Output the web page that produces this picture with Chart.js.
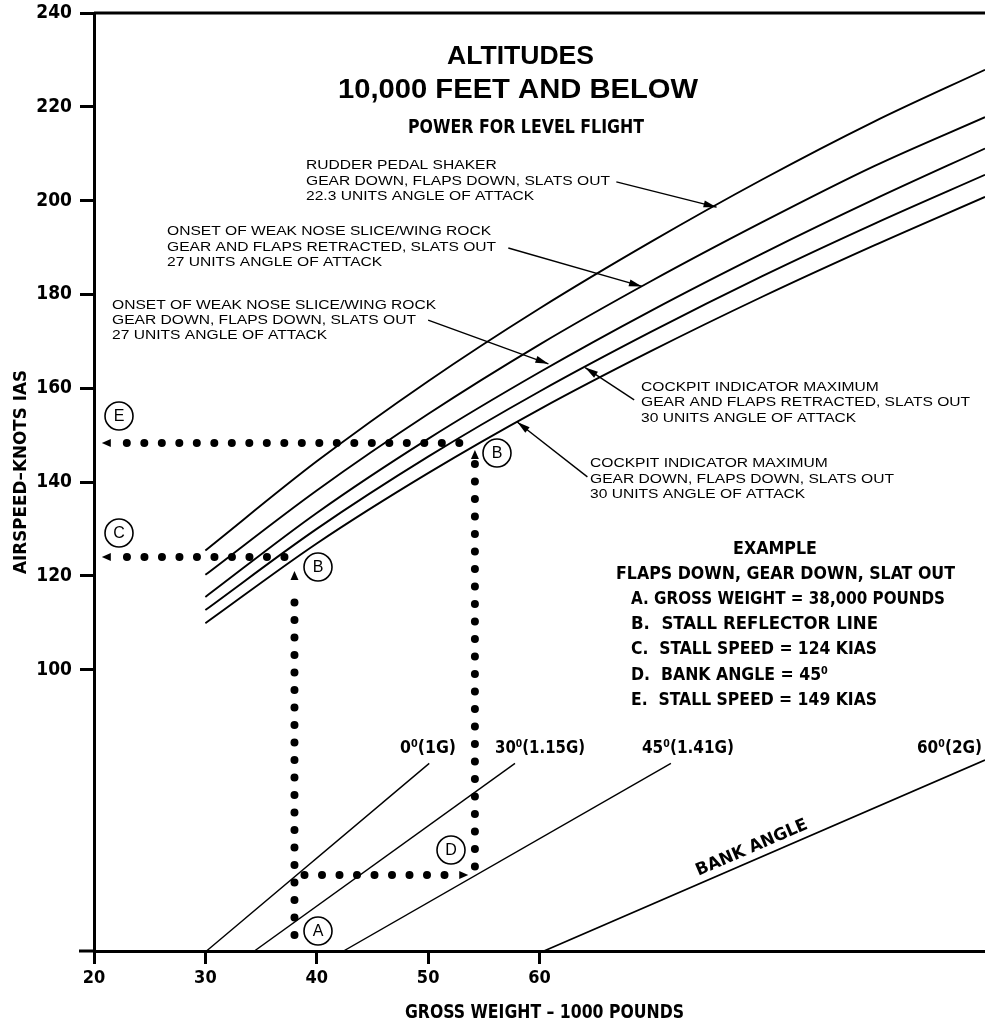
<!DOCTYPE html>
<html>
<head>
<meta charset="utf-8">
<script src="https://cdn.jsdelivr.net/npm/chart.js@4.4.1/dist/chart.umd.min.js"></script>
<style>
  body { margin: 0; background: #fff; }
  #wrap { width: 985px; height: 1028px; position: relative; }
</style>
</head>
<body>
<div id="wrap"><canvas id="stall"></canvas></div>
<script>
// gross weight (1000 lb) where the stall curves were read
const weights = [30, 40, 50, 60, 70, 80, 90, 100];
// airspeed KIAS
const rudderShaker      = [125.4, 144.4, 161.5, 177.0, 191.2, 204.5, 216.8, 227.9];
const noseSliceUp       = [120.2, 138.2, 154.5, 169.3, 182.8, 195.4, 207.3, 217.8];
const noseSliceDown     = [115.5, 133.4, 149.2, 163.4, 176.5, 188.7, 200.2, 211.1];
const cockpitMaxUp      = [112.7, 130.0, 145.4, 159.3, 172.0, 183.9, 195.0, 205.5];
const cockpitMaxDown    = [109.9, 126.9, 141.9, 155.5, 167.9, 179.5, 190.4, 200.8];

// bank angle reflector lines: [start, end] as {x, y}
const bank0  = [{ x: 30.1, y: 40 }, { x: 50.1, y: 80 }];
const bank30 = [{ x: 34.4, y: 40 }, { x: 57.8, y: 80 }];
const bank45 = [{ x: 42.4, y: 40 }, { x: 71.8, y: 80 }];
const bank60 = [{ x: 60.4, y: 40 }, { x: 100, y: 80.7 }];
const bankLabels = ["0⁰(1G)", "30⁰(1.15G)", "45⁰(1.41G)", "60⁰(2G)"];

// example path (dotted), tip = where the arrow points
const pathAB = [{ x: 38, y: 43.4 }, { x: 38, y: 117.5 }];
const tipAB  = { x: 38, y: 121 };
const pathBC = [{ x: 37.1, y: 124 }, { x: 22.9, y: 124 }];
const tipBC  = { x: 20.7, y: 124 };
const pathAD = [{ x: 38.9, y: 56.2 }, { x: 51.6, y: 56.2 }];
const tipAD  = { x: 53.6, y: 56.2 };
const pathDB = [{ x: 54.2, y: 58 }, { x: 54.2, y: 144 }];
const tipDB  = { x: 54.2, y: 146.8 };
const pathBE = [{ x: 52.8, y: 148.3 }, { x: 22.9, y: 148.3 }];
const tipBE  = { x: 20.7, y: 148.3 };

// leader arrows from the notes to the curves
const leader1 = [{ x: 66.9, y: 204.0 }, { x: 75.9, y: 198.6 }];
const leader2 = [{ x: 57.2, y: 189.9 }, { x: 69.2, y: 181.7 }];
const leader3 = [{ x: 50.0, y: 174.5 }, { x: 60.8, y: 165.2 }];
const leader4 = [{ x: 68.5, y: 157.5 }, { x: 64.1, y: 164.4 }];
const leader5 = [{ x: 64.3, y: 141.1 }, { x: 58.0, y: 152.8 }];

const xTickMax = 60;
const yTickMin = 100;

const NARROW = "'Liberation Sans Narrow', 'DejaVu Sans Condensed', 'Liberation Sans', sans-serif";
const SANS = "'Liberation Sans', Arial, sans-serif";
const BLACK = "#000";

const toXY = (ys) => weights.map((w, i) => ({ x: w, y: ys[i] }));

const curve = (ys) => ({
    data: toXY(ys),
    borderColor: BLACK,
    borderWidth: 1.9,
    cubicInterpolationMode: "monotone",
    pointRadius: 0,
});

const straight = (pts, width) => ({
    data: pts,
    borderColor: BLACK,
    borderWidth: width,
    pointRadius: 0,
});

const dotted = (pts, tip) => ({
    data: pts,
    borderColor: BLACK,
    borderWidth: 8,
    borderDash: [0, 17.5],
    borderCapStyle: "round",
    pointRadius: 0,
    arrowTip: tip,
    arrowSize: [9, 4],
});

const leader = (pts) => ({
    data: pts,
    borderColor: BLACK,
    borderWidth: 1.4,
    pointRadius: 0,
    arrowTip: pts[pts.length - 1],
    arrowSize: [13, 3.5],
});

// arrow heads at the end of flagged datasets
const arrowPlugin = {
    id: "arrows",
    afterDatasetsDraw(chart) {
        const ctx = chart.ctx;
        const xs = chart.scales.x;
        const ys = chart.scales.y;
        chart.data.datasets.forEach((ds) => {
            if (!ds.arrowTip) return;
            let n = ds.data.length;
            let from = ds.data[n - 1];
            if (from.x === ds.arrowTip.x && from.y === ds.arrowTip.y) from = ds.data[n - 2];
            let fx = xs.getPixelForValue(from.x);
            let fy = ys.getPixelForValue(from.y);
            let tx = xs.getPixelForValue(ds.arrowTip.x);
            let ty = ys.getPixelForValue(ds.arrowTip.y);
            let a = Math.atan2(ty - fy, tx - fx);
            let len = ds.arrowSize[0];
            let half = ds.arrowSize[1];
            ctx.save();
            ctx.fillStyle = BLACK;
            ctx.translate(tx, ty);
            ctx.rotate(a);
            ctx.beginPath();
            ctx.moveTo(0, 0);
            ctx.lineTo(-len, -half);
            ctx.lineTo(-len, half);
            ctx.closePath();
            ctx.fill();
            ctx.restore();
        });
    },
};

// text stretched horizontally by sx
const text = (ctx, s, x, y, font, align, sx) => {
    sx = sx || 1;
    ctx.font = font;
    let w = ctx.measureText(s).width * sx;
    let x0 = x;
    if (align === "center") x0 = x - w / 2;
    if (align === "right") x0 = x - w;
    ctx.save();
    ctx.translate(x0, y);
    ctx.scale(sx, 1);
    ctx.textAlign = "left";
    ctx.fillText(s, 0, 0);
    ctx.restore();
};

// text squeezed or stretched to span x0..x1
const fit = (ctx, s, x0, x1, y, font) => {
    ctx.font = font;
    let sx = (x1 - x0) / ctx.measureText(s).width;
    text(ctx, s, x0, y, font, "left", sx);
};

const circled = (ctx, letter, x, y) => {
    ctx.beginPath();
    ctx.lineWidth = 1.6;
    ctx.arc(x, y, 14, 0, Math.PI * 2);
    ctx.stroke();
    text(ctx, letter, x, y + 1, "16px " + SANS, "center");
};

// titles, notes, labels
const notesPlugin = {
    id: "notes",
    afterDraw(chart) {
        const ctx = chart.ctx;
        const area = chart.chartArea;
        const xs = chart.scales.x;
        const ys = chart.scales.y;
        ctx.save();
        ctx.fillStyle = BLACK;
        ctx.strokeStyle = BLACK;
        ctx.textBaseline = "middle";

        // frame top, and the bottom axis running a little past the left axis
        ctx.lineWidth = 3;
        ctx.beginPath();
        ctx.moveTo(area.left, area.top);
        ctx.lineTo(area.right, area.top);
        ctx.moveTo(area.left - 15, area.bottom);
        ctx.lineTo(area.left, area.bottom);
        ctx.stroke();

        fit(ctx, "ALTITUDES", 447, 594, 57, "bold 26px " + SANS);
        fit(ctx, "10,000 FEET AND BELOW", 338, 698, 91, "bold 27px " + SANS);
        fit(ctx, "POWER FOR LEVEL FLIGHT", 408, 644, 128, "bold 20px " + NARROW);

        const small = "12px " + SANS;
        const sx = 1.3;
        text(ctx, "RUDDER PEDAL SHAKER", 306, 166, small, "left", sx);
        text(ctx, "GEAR DOWN, FLAPS DOWN, SLATS OUT", 306, 182, small, "left", sx);
        text(ctx, "22.3 UNITS ANGLE OF ATTACK", 306, 197, small, "left", sx);

        text(ctx, "ONSET OF WEAK NOSE SLICE/WING ROCK", 167, 232, small, "left", sx);
        text(ctx, "GEAR AND FLAPS RETRACTED, SLATS OUT", 167, 248, small, "left", sx);
        text(ctx, "27 UNITS ANGLE OF ATTACK", 167, 263, small, "left", sx);

        text(ctx, "ONSET OF WEAK NOSE SLICE/WING ROCK", 112, 306, small, "left", sx);
        text(ctx, "GEAR DOWN, FLAPS DOWN, SLATS OUT", 112, 321, small, "left", sx);
        text(ctx, "27 UNITS ANGLE OF ATTACK", 112, 336, small, "left", sx);

        text(ctx, "COCKPIT INDICATOR MAXIMUM", 641, 388, small, "left", sx);
        text(ctx, "GEAR AND FLAPS RETRACTED, SLATS OUT", 641, 403, small, "left", sx);
        text(ctx, "30 UNITS ANGLE OF ATTACK", 641, 419, small, "left", sx);

        text(ctx, "COCKPIT INDICATOR MAXIMUM", 590, 464, small, "left", sx);
        text(ctx, "GEAR DOWN, FLAPS DOWN, SLATS OUT", 590, 480, small, "left", sx);
        text(ctx, "30 UNITS ANGLE OF ATTACK", 590, 495, small, "left", sx);

        const ex = "bold 18px " + NARROW;
        fit(ctx, "EXAMPLE", 733, 817, 549, ex);
        fit(ctx, "FLAPS DOWN, GEAR DOWN, SLAT OUT", 616, 955, 574, ex);
        fit(ctx, "A. GROSS WEIGHT = 38,000 POUNDS", 631, 945, 599, ex);
        fit(ctx, "B.  STALL REFLECTOR LINE", 631, 878, 624, ex);
        fit(ctx, "C.  STALL SPEED = 124 KIAS", 631, 877, 649, ex);
        fit(ctx, "D.  BANK ANGLE = 45⁰", 631, 828, 675, ex);
        fit(ctx, "E.  STALL SPEED = 149 KIAS", 631, 877, 700, ex);

        // bank angle labels over the line ends
        const bl = "bold 18px " + NARROW;
        fit(ctx, bankLabels[0], 400, 456, 748, bl);
        fit(ctx, bankLabels[1], 495, 585, 748, bl);
        fit(ctx, bankLabels[2], 642, 734, 748, bl);
        fit(ctx, bankLabels[3], 917, 982, 748, bl);

        // "BANK ANGLE" along the 60 degree line
        let bx = xs.getPixelForValue(79.5);
        let by = ys.getPixelForValue(bank60[0].y + (79.5 - bank60[0].x) * (bank60[1].y - bank60[0].y) / (bank60[1].x - bank60[0].x));
        let ang = Math.atan2(
            ys.getPixelForValue(bank60[1].y) - ys.getPixelForValue(bank60[0].y),
            xs.getPixelForValue(bank60[1].x) - xs.getPixelForValue(bank60[0].x)
        );
        ctx.save();
        ctx.translate(bx, by);
        ctx.rotate(ang);
        fit(ctx, "BANK ANGLE", -60, 60, -12, "bold 17px " + NARROW);
        ctx.restore();

        circled(ctx, "E", 119, 416);
        circled(ctx, "C", 119, 533);
        circled(ctx, "B", 318, 567);
        circled(ctx, "B", 497, 453);
        circled(ctx, "D", 451, 850);
        circled(ctx, "A", 318, 931);

        // axis titles
        fit(ctx, "GROSS WEIGHT – 1000 POUNDS", 405, 684, 1013, "bold 19px " + NARROW);
        ctx.save();
        ctx.translate(21, 472);
        ctx.rotate(-Math.PI / 2);
        fit(ctx, "AIRSPEED–KNOTS IAS", -102, 102, 0, "bold 18px " + NARROW);
        ctx.restore();

        ctx.restore();
    },
};

const datasets = [
    curve(rudderShaker),
    curve(noseSliceUp),
    curve(noseSliceDown),
    curve(cockpitMaxUp),
    curve(cockpitMaxDown),
    straight(bank0, 1.4),
    straight(bank30, 1.4),
    straight(bank45, 1.4),
    straight(bank60, 1.7),
    dotted(pathAB, tipAB),
    dotted(pathBC, tipBC),
    dotted(pathAD, tipAD),
    dotted(pathDB, tipDB),
    dotted(pathBE, tipBE),
    leader(leader1),
    leader(leader2),
    leader(leader3),
    leader(leader4),
    leader(leader5),
];

let ctx = document.getElementById("stall").getContext("2d");

let myChart = new Chart(ctx, {
    type: "line",
    data: { datasets: datasets },
    options: {
        responsive: true,
        maintainAspectRatio: false,
        animation: false,
        events: [],
        layout: { padding: { top: 13, right: 0, left: 0, bottom: 0 } },
        plugins: {
            legend: { display: false },
            tooltip: { enabled: false },
        },
        scales: {
            x: {
                type: "linear",
                min: 20,
                max: 100,
                afterFit: (scale) => {
                    scale.height = 77;
                    // plot runs to the right edge of the page
                    scale.paddingRight = 0;
                },
                border: { width: 3, color: BLACK },
                grid: {
                    drawOnChartArea: false,
                    tickLength: 13,
                    tickWidth: 3,
                    tickColor: (c) => (c.tick && c.tick.value <= xTickMax ? BLACK : "rgba(0,0,0,0)"),
                },
                ticks: {
                    stepSize: 10,
                    padding: 4,
                    color: BLACK,
                    font: { family: NARROW, size: 18, weight: "bold" },
                    callback: (v) => (v <= xTickMax ? v : ""),
                    maxRotation: 0,
                },
            },
            y: {
                type: "linear",
                min: 40,
                max: 240,
                afterFit: (scale) => {
                    scale.width = 94;
                    // frame top sits at the layout padding, not below the 240 label
                    scale.paddingTop = 0;
                    scale.paddingBottom = 0;
                },
                border: { width: 3, color: BLACK },
                grid: {
                    drawOnChartArea: false,
                    tickLength: 14,
                    tickWidth: 3,
                    tickColor: (c) => (c.tick && c.tick.value >= yTickMin ? BLACK : "rgba(0,0,0,0)"),
                },
                ticks: {
                    stepSize: 20,
                    padding: 8,
                    color: BLACK,
                    font: { family: NARROW, size: 19, weight: "bold" },
                    callback: (v) => (v >= yTickMin ? v : ""),
                },
            },
        },
    },
    plugins: [arrowPlugin, notesPlugin],
});
</script>
</body>
</html>
